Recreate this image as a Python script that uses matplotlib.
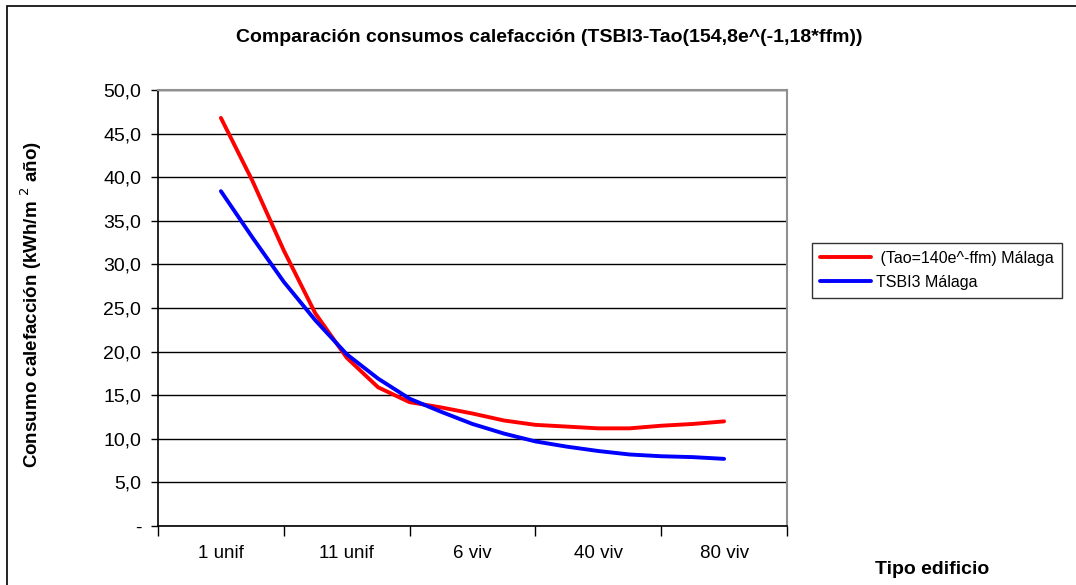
import matplotlib
matplotlib.use("Agg")
import matplotlib.pyplot as plt
from matplotlib.patches import Rectangle
from matplotlib.ticker import FixedLocator, FuncFormatter

plt.rcParams['font.family'] = ['Liberation Sans', 'DejaVu Sans']

# ---- data ----
category_labels = ["1 unif", "11 unif", "6 viv", "40 viv", "80 viv"]
label_positions = [0, 4, 8, 12, 16]
tao_malaga = [46.8, 39.6, 31.6, 24.4, 19.3, 15.9, 14.2, 13.6, 12.9, 12.1,
              11.6, 11.4, 11.2, 11.2, 11.5, 11.7, 12.0]
tsbi3_malaga = [38.4, 33.1, 28.0, 23.6, 19.7, 16.9, 14.6, 13.1, 11.7, 10.6,
                9.7, 9.1, 8.6, 8.2, 8.0, 7.9, 7.7]
series_names = [" (Tao=140e^-ffm) Málaga", "TSBI3 Málaga"]
title = "Comparación consumos calefacción (TSBI3-Tao(154,8e^(-1,18*ffm))"
ylabel = "Consumo calefacción (kWh/m $^{2}$ año)"
xlabel = "Tipo edificio"
yticks = [0, 5, 10, 15, 20, 25, 30, 35, 40, 45, 50]

W, H = 1076, 585
fig = plt.figure(figsize=(W / 100, H / 100), dpi=100)
fig.patch.set_facecolor("white")

# outer chart border
fig.patches.append(Rectangle((7 / W, -0.01), 1.02, 1 - 6 / H + 0.01,
                             transform=fig.transFigure, fill=False,
                             edgecolor="black", linewidth=1.2))

L, R, T, B = 158, 787, 90, 526
ax = fig.add_axes([L / W, 1 - B / H, (R - L) / W, (B - T) / H])

x = list(range(len(tao_malaga)))
ax.plot(x, tao_malaga, color="#ff0000", lw=2.8, label=series_names[0],
        solid_capstyle="round", zorder=3)
ax.plot(x, tsbi3_malaga, color="#0000ff", lw=2.8, label=series_names[1],
        solid_capstyle="round", zorder=3)

ax.set_xlim(-2, 18)
ax.set_ylim(0, 50)

ax.yaxis.set_major_locator(FixedLocator(yticks))
ax.yaxis.set_major_formatter(FuncFormatter(
    lambda v, p: "-" if v == 0 else f"{v:.1f}".replace(".", ",")))
ax.grid(axis="y", color="black", lw=1.0)
ax.set_axisbelow(True)

ax.xaxis.set_major_locator(FixedLocator([-2, 2, 6, 10, 14, 18]))
ax.xaxis.set_major_formatter(FuncFormatter(lambda v, p: ""))
ax.xaxis.set_minor_locator(FixedLocator(label_positions))
ax.set_xticks(label_positions, category_labels, minor=True)
ax.tick_params(axis="x", which="minor", length=0, pad=14, labelsize=13.5)
ax.tick_params(axis="x", which="major", length=7, width=1, direction="out")
ax.tick_params(axis="y", which="major", length=5, width=1, direction="out",
               labelsize=14, pad=7)

for s in ["top", "right"]:
    ax.spines[s].set_color("#909090")
    ax.spines[s].set_linewidth(1.5)
for s in ["left", "bottom"]:
    ax.spines[s].set_color("black")
    ax.spines[s].set_linewidth(1.2)

fig.text(549 / W, 1 - 37 / H, title, ha="center", va="center",
         fontsize=14, fontweight="bold")
fig.text(31 / W, 1 - 305 / H, ylabel, ha="center", va="center",
         rotation=90, fontsize=13.5, fontweight="bold")
fig.text(932 / W, 1 - 569 / H, xlabel, ha="center", va="center",
         fontsize=14, fontweight="bold")

leg = fig.legend(loc="upper left", bbox_to_anchor=(812 / W, 1 - 243 / H),
                 frameon=True, fancybox=False, edgecolor="black",
                 fontsize=11.5, handlelength=3.2, handletextpad=0.3,
                 borderpad=0.5, labelspacing=0.55, borderaxespad=0)
leg.get_frame().set_linewidth(1.0)

fig.savefig("out.png", dpi=100)
